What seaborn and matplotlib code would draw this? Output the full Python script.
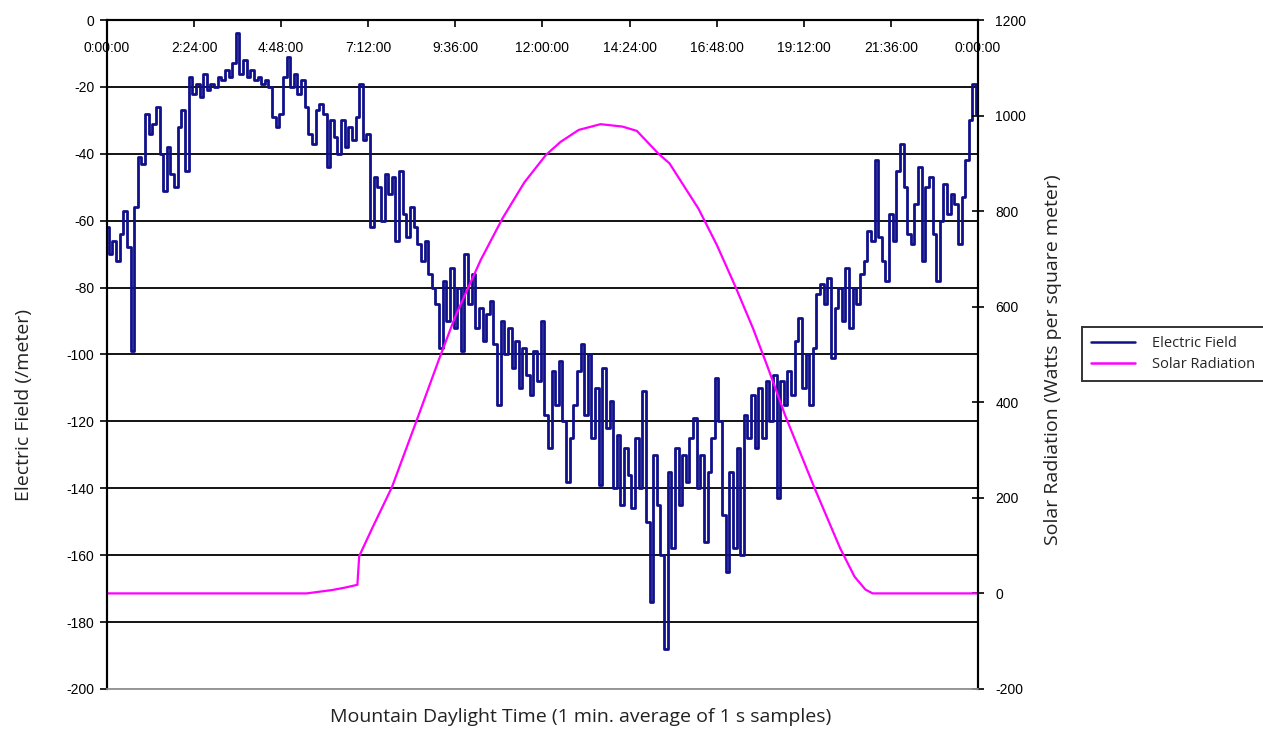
import numpy as np
import pandas as pd
import seaborn as sns
import matplotlib.pyplot as plt
from matplotlib.lines import Line2D

# electric field, every 0.1 h (one row per hour), V/m
field_rows = [
    [-62, -70, -66, -72, -64, -57, -68, -99, -56, -41],   # 0 h
    [-43, -28, -34, -31, -26, -40, -51, -38, -46, -50],   # 1 h
    [-32, -27, -45, -17, -22, -19, -23, -16, -21, -19],   # 2 h
    [-20, -17, -18, -15, -17, -13, -4, -16, -12, -17],    # 3 h
    [-15, -18, -17, -19, -18, -20, -29, -32, -28, -17],   # 4 h
    [-11, -20, -16, -22, -18, -26, -34, -37, -27, -25],   # 5 h
    [-28, -44, -30, -35, -40, -30, -38, -32, -36, -29],   # 6 h
    [-19, -36, -34, -62, -47, -50, -60, -46, -52, -47],   # 7 h
    [-66, -45, -58, -65, -56, -62, -67, -72, -66, -76],   # 8 h
    [-80, -85, -98, -78, -90, -74, -92, -80, -99, -70],   # 9 h
    [-85, -76, -92, -86, -96, -88, -84, -97, -115, -90],  # 10 h
    [-100, -92, -104, -96, -110, -98, -106, -112, -99, -108],  # 11 h
    [-90, -118, -128, -105, -115, -102, -120, -138, -125, -115],  # 12 h
    [-105, -97, -118, -100, -125, -110, -139, -104, -122, -114],  # 13 h
    [-140, -124, -145, -128, -136, -146, -125, -140, -111, -150],  # 14 h
    [-174, -130, -145, -160, -188, -135, -158, -128, -145, -130],  # 15 h
    [-138, -125, -119, -140, -130, -156, -135, -125, -107, -120],  # 16 h
    [-148, -165, -135, -158, -128, -160, -118, -125, -112, -128],  # 17 h
    [-110, -125, -108, -120, -106, -143, -108, -115, -105, -112],  # 18 h
    [-96, -89, -110, -100, -115, -98, -82, -79, -85, -77],  # 19 h
    [-101, -86, -80, -90, -74, -92, -80, -85, -76, -72],  # 20 h
    [-63, -66, -42, -65, -72, -78, -58, -66, -45, -37],  # 21 h
    [-50, -64, -67, -55, -44, -72, -50, -47, -64, -78],  # 22 h
    [-60, -49, -58, -52, -55, -67, -53, -42, -30, -19],  # 23 h
]
field_last = [-28]  # 24 h

# solar radiation, W/m^2
solar_hours = [0, 5.5, 6.2, 6.55, 6.9, 6.95, 7.3, 7.85, 8.5, 9.15, 9.6, 10.3,
               10.9, 11.5, 12.1, 12.5, 13.0, 13.6, 14.2, 14.6, 15.2, 15.5, 16.3,
               16.8, 17.3, 17.8, 18.2, 18.7, 19.5, 20.2, 20.6, 20.9, 21.1, 24]
solar_wm2 = [0, 0, 7, 12, 18, 78, 135, 222, 355, 490, 580, 698,
             785, 860, 918, 945, 970, 982, 977, 968, 920, 900, 805,
             730, 645, 555, 475, 370, 220, 95, 35, 8, 0, 0]

time_ticks = [0, 2.4, 4.8, 7.2, 9.6, 12, 14.4, 16.8, 19.2, 21.6, 24]
time_labels = ["0:00:00", "2:24:00", "4:48:00", "7:12:00", "9:36:00", "12:00:00",
               "14:24:00", "16:48:00", "19:12:00", "21:36:00", "0:00:00"]

field_vals = [v for row in field_rows for v in row] + field_last
field_df = pd.DataFrame({"hours": np.round(np.arange(len(field_vals)) * 0.1, 1),
                         "field": field_vals})
solar_df = pd.DataFrame({"hours": solar_hours, "solar": solar_wm2})

sns.set_style("white")
plt.rcParams["font.family"] = ["Liberation Sans", "DejaVu Sans"]
plt.rcParams["axes.unicode_minus"] = False

fig = plt.figure(figsize=(12.63, 7.30), dpi=100)
ax = fig.add_axes([0.0847, 0.0562, 0.6896, 0.9164])
ax2 = ax.twinx()

blue = "#10108a"
pink = "#ff00ff"
sns.lineplot(data=field_df, x="hours", y="field", ax=ax, color=blue, lw=2.0,
             drawstyle="steps-mid", legend=False)
sns.lineplot(data=solar_df, x="hours", y="solar", ax=ax2, color=pink, lw=1.6,
             legend=False)

ax.set_xlim(0, 24)
ax.set_ylim(-200, 0)
ax.set_yticks(range(-200, 1, 20))
ax2.set_ylim(-200, 1200)
ax2.set_yticks(range(-200, 1201, 200))

# horizontal grid only
ax.yaxis.grid(True, color="black", lw=1.3)
ax.xaxis.grid(False)
ax.set_axisbelow(True)

for a in (ax, ax2):
    for s in a.spines.values():
        s.set_color("black")
        s.set_linewidth(1.5)
    a.spines["bottom"].set_color("#999999")
    a.spines["bottom"].set_linewidth(1.2)

# time axis sits at the top (y = 0), labels hang below it
ax.set_xticks(time_ticks)
ax.set_xticklabels(time_labels)
ax.tick_params(axis="x", top=True, bottom=False, labeltop=True, labelbottom=False,
               direction="in", length=5, width=1.2, pad=-25, labelsize=10, colors="black")
ax.tick_params(axis="y", left=True, direction="out", length=5, width=1.2,
               labelsize=10, pad=4, colors="black")
ax2.tick_params(axis="y", right=True, direction="inout", length=9, width=1.2,
                labelsize=10, pad=8, colors="black")

lab_font = dict(family="Open Sans", fontsize=14, color="#222222")
ax.set_xlabel("Mountain Daylight Time (1 min. average of 1 s samples)", **lab_font)
ax.set_ylabel("Electric Field (/meter)", **lab_font)
ax2.set_ylabel("Solar Radiation (Watts per square meter)", **lab_font)
ax.xaxis.set_label_coords(0.5437, -0.042)
ax.xaxis.label.set_verticalalignment("center")
ax.yaxis.set_label_coords(-0.0955, 0.4245)
ax.yaxis.label.set_verticalalignment("center")
ax2.yaxis.set_label_coords(1.086, 0.4918)
ax2.yaxis.label.set_verticalalignment("center")

handles = [Line2D([], [], color=blue, lw=1.8), Line2D([], [], color=pink, lw=1.8)]
leg = fig.legend(handles, ["Electric Field", "Solar Radiation"],
                 loc="center", bbox_to_anchor=(0.9287, 0.515),
                 prop={"family": "Open Sans", "size": 10.5}, frameon=True,
                 fancybox=False, edgecolor="black", handlelength=3.0,
                 borderpad=0.6, labelspacing=0.45, handletextpad=1.2)
leg.get_frame().set_linewidth(1.4)

fig.savefig("out.png", dpi=100)
